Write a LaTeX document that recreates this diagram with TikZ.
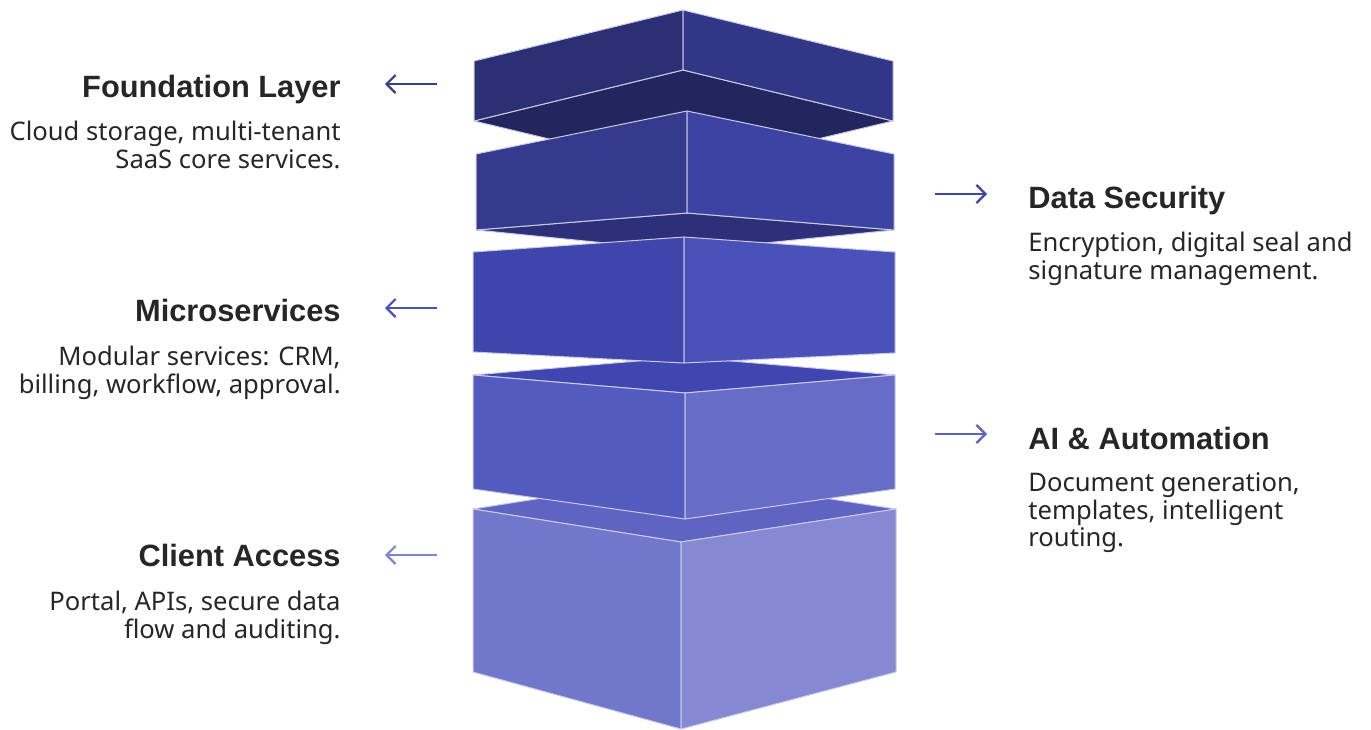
\documentclass[tikz,border=0pt]{standalone}
\usepackage{fontspec}
\setmainfont{Noto Sans}
\newfontfamily\titlefont{Liberation Sans}
\usetikzlibrary{arrows.meta}
\definecolor{txt}{HTML}{262626}
\definecolor{edge}{HTML}{C9CAE6}
\definecolor{aL}{HTML}{2B2F73}\definecolor{aR}{HTML}{323687}\definecolor{aU}{HTML}{23255E}
\definecolor{bL}{HTML}{353A8D}\definecolor{bR}{HTML}{3D43A3}\definecolor{bU}{HTML}{2C3078}
\definecolor{cL}{HTML}{3F45AB}\definecolor{cR}{HTML}{4A52BA}
\definecolor{dT}{HTML}{3F46AF}\definecolor{dL}{HTML}{535BBE}\definecolor{dR}{HTML}{676CC6}
\definecolor{eT}{HTML}{5F64C2}\definecolor{eL}{HTML}{7177CA}\definecolor{eR}{HTML}{8489D1}
\definecolor{ar1}{HTML}{3B3F90}\definecolor{ar2}{HTML}{3F45A6}\definecolor{ar3}{HTML}{4C52B4}
\definecolor{ar4}{HTML}{5C62C2}\definecolor{ar5}{HTML}{8085D2}
\begin{document}
\begin{tikzpicture}[x=0.5pt,y=-0.5pt,
  face/.style={draw=edge,line width=0.5pt,line join=round},
  title/.style={font=\titlefont\fontsize{15.4}{18}\selectfont\bfseries,text=txt,inner sep=0pt},
  body/.style={font=\fontsize{12.8}{15}\selectfont,text=txt,inner sep=0pt},
  conn/.style={line width=1.1pt,-{Straight Barb[length=4.5pt,width=9pt,line width=1.1pt]}}]
\useasboundingbox (0,0) rectangle (1371,729);
% block 1 underside + sides
\filldraw[face,fill=aU] (474,121) -- (683,70) -- (893,121) -- (683,171) -- cycle;
\filldraw[face,fill=aL] (474,61) -- (683,10) -- (683,70) -- (474,121) -- cycle;
\filldraw[face,fill=aR] (683,10) -- (893,61) -- (893,121) -- (683,70) -- cycle;
% block 2 underside + sides
\filldraw[face,fill=bU] (476,230) -- (687,213) -- (894,230) -- (685,251) -- cycle;
\filldraw[face,fill=bL] (476,154) -- (687,111) -- (687,213) -- (476,230) -- cycle;
\filldraw[face,fill=bR] (687,111) -- (894,154) -- (894,230) -- (687,213) -- cycle;
% block 5
\filldraw[face,fill=eT] (473,509) -- (681,476) -- (896,509) -- (681,542) -- cycle;
\filldraw[face,fill=eL] (473,509) -- (681,542) -- (681,729) -- (473,672) -- cycle;
\filldraw[face,fill=eR] (681,542) -- (896,509) -- (896,672) -- (681,729) -- cycle;
% block 4
\filldraw[face,fill=dT] (473,375) -- (685,357) -- (895,375) -- (685,393) -- cycle;
\filldraw[face,fill=dL] (473,375) -- (685,393) -- (685,519) -- (473,489) -- cycle;
\filldraw[face,fill=dR] (685,393) -- (895,375) -- (895,489) -- (685,519) -- cycle;
% block 3
\filldraw[face,fill=cL] (473,252) -- (684,237) -- (684,363) -- (473,352) -- cycle;
\filldraw[face,fill=cR] (684,237) -- (895,252) -- (895,353) -- (684,363) -- cycle;

% left labels
\node[title,anchor=base east] (t1) at (341,97) {Foundation Layer};
\node[body,anchor=base east] (t1a) at (341,140) {Cloud storage, multi-tenant};
\node[body,anchor=base east] (t1b) at (341,168) {SaaS core services.};
\node[title,anchor=base east] (t3) at (341,321) {Microservices};
\node[body,anchor=base east] (t3a) at (341,365) {Modular services: CRM,};
\node[body,anchor=base east] (t3b) at (341,393) {billing, workflow, approval.};
\node[title,anchor=base east] (t5) at (341,566) {Client Access};
\node[body,anchor=base east] (t5a) at (341,610) {Portal, APIs, secure data};
\node[body,anchor=base east] (t5b) at (341,638) {flow and auditing.};
% right labels
\node[title,anchor=base west] (t2) at (1028,208) {Data Security};
\node[body,anchor=base west] (t2a) at (1028,251) {Encryption, digital seal and};
\node[body,anchor=base west] (t2b) at (1028,279) {signature management.};
\node[title,anchor=base west] (t4) at (1028,449) {AI \& Automation};
\node[body,anchor=base west] (t4a) at (1028,491) {Document generation,};
\node[body,anchor=base west] (t4b) at (1028,519) {templates, intelligent};
\node[body,anchor=base west] (t4c) at (1028,546) {routing.};

% arrows
\coordinate (a1s) at (437,84); \coordinate (a1e) at (385,84);
\coordinate (a2s) at (935,194); \coordinate (a2e) at (987,194);
\coordinate (a3s) at (437,308); \coordinate (a3e) at (385,308);
\coordinate (a4s) at (935,434); \coordinate (a4e) at (987,434);
\coordinate (a5s) at (437,555); \coordinate (a5e) at (385,555);
\draw[conn,ar1] (a1s) -- (a1e);
\draw[conn,ar2] (a2s) -- (a2e);
\draw[conn,ar3] (a3s) -- (a3e);
\draw[conn,ar4] (a4s) -- (a4e);
\draw[conn,ar5] (a5s) -- (a5e);
\end{tikzpicture}
\end{document}
